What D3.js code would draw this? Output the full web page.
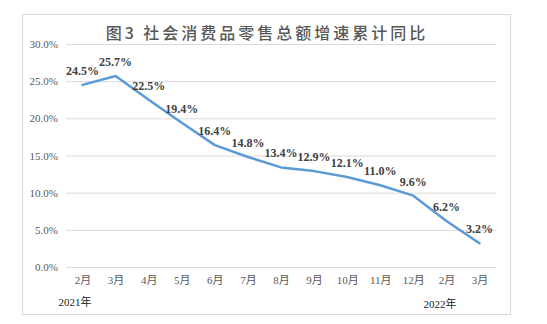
<!DOCTYPE html>
<html>
<head>
<meta charset="utf-8">
<script src="https://cdn.jsdelivr.net/npm/d3@7/dist/d3.min.js"></script>
<style>
  html, body { margin: 0; padding: 0; background: #fff; }
  svg { display: block; }
  .serif { font-family: "Liberation Serif", "Noto Sans CJK SC", serif; }
</style>
</head>
<body>
<svg id="chart" width="547" height="324"></svg>
<script>
// Monthly cumulative year-on-year growth of retail sales of consumer goods
const months = ["2月", "3月", "4月", "5月", "6月", "7月", "8月", "9月", "10月", "11月", "12月", "2月", "3月"];
const growth = [24.5, 25.7, 22.5, 19.4, 16.4, 14.8, 13.4, 12.9, 12.1, 11.0, 9.6, 6.2, 3.2];
const yTicks = [0, 5, 10, 15, 20, 25, 30];
const yearLabels = ["2021年", "2022年"];
const title = "图3 社会消费品零售总额增速累计同比";

const svg = d3.select("#chart");

// chart frame
svg.append("rect")
  .attr("x", 22.5).attr("y", 14.5)
  .attr("width", 488).attr("height", 300)
  .attr("fill", "#fff")
  .attr("stroke", "#d9d9d9").attr("stroke-width", 1);

const plot = { left: 66, right: 496, top: 44, bottom: 267 };

const x = d3.scalePoint()
  .domain(months.map((m, i) => i))
  .range([plot.left, plot.right])
  .padding(0.5);

const y = d3.scaleLinear()
  .domain([0, 30])
  .range([plot.bottom, plot.top]);

// horizontal gridlines + y labels
const yAxis = d3.axisLeft(y)
  .tickValues(yTicks)
  .tickSize(-(plot.right - plot.left))
  .tickPadding(8)
  .tickFormat(d => d.toFixed(1) + "%");

const gy = svg.append("g")
  .attr("transform", `translate(${plot.left},0)`)
  .call(yAxis);
gy.attr("font-family", null).attr("font-size", null);
gy.select(".domain").remove();
gy.selectAll(".tick line").attr("stroke", "#d9d9d9").attr("stroke-width", 1);
gy.selectAll(".tick text")
  .attr("class", "serif")
  .attr("fill", "#595959")
  .style("font-size", "11px");

// x category labels
const xAxis = d3.axisBottom(x)
  .tickSize(0)
  .tickPadding(9)
  .tickFormat(i => months[i]);

const gx = svg.append("g")
  .attr("transform", `translate(0,${plot.bottom})`)
  .call(xAxis);
gx.attr("font-family", null).attr("font-size", null);
gx.select(".domain").remove();
gx.selectAll(".tick text")
  .attr("class", "serif")
  .attr("fill", "#595959")
  .style("font-size", "11px");

// year labels under the first category of each year
svg.append("text")
  .attr("class", "serif")
  .attr("x", x(0) - 24).attr("y", 306)
  .attr("fill", "#1a1a1a")
  .style("font-size", "11px")
  .text(yearLabels[0]);

svg.append("text")
  .attr("class", "serif")
  .attr("x", x(11) - 23).attr("y", 308)
  .attr("fill", "#1a1a1a")
  .style("font-size", "11px")
  .text(yearLabels[1]);

// growth line
const line = d3.line()
  .x((d, i) => x(i))
  .y(d => y(d));

svg.append("path")
  .datum(growth)
  .attr("fill", "none")
  .attr("stroke", "#5b9bd5")
  .attr("stroke-width", 2.5)
  .attr("stroke-linejoin", "round")
  .attr("stroke-linecap", "round")
  .attr("d", line);

// value labels
svg.append("g")
  .selectAll("text")
  .data(growth)
  .join("text")
  .attr("class", "serif")
  .attr("x", (d, i) => x(i))
  .attr("y", d => y(d) - 10)
  .attr("text-anchor", "middle")
  .attr("fill", "#404040")
  .style("font-weight", "bold")
  .style("font-size", "12px")
  .text(d => d.toFixed(1) + "%");

// title
svg.append("text")
  .attr("x", 267).attr("y", 39)
  .attr("text-anchor", "middle")
  .attr("fill", "#595959")
  .style("font-family", "'Noto Sans CJK SC', sans-serif")
  .style("font-weight", "500")
  .style("font-size", "16px")
  .style("letter-spacing", "3px")
  .text(title);
</script>
</body>
</html>
